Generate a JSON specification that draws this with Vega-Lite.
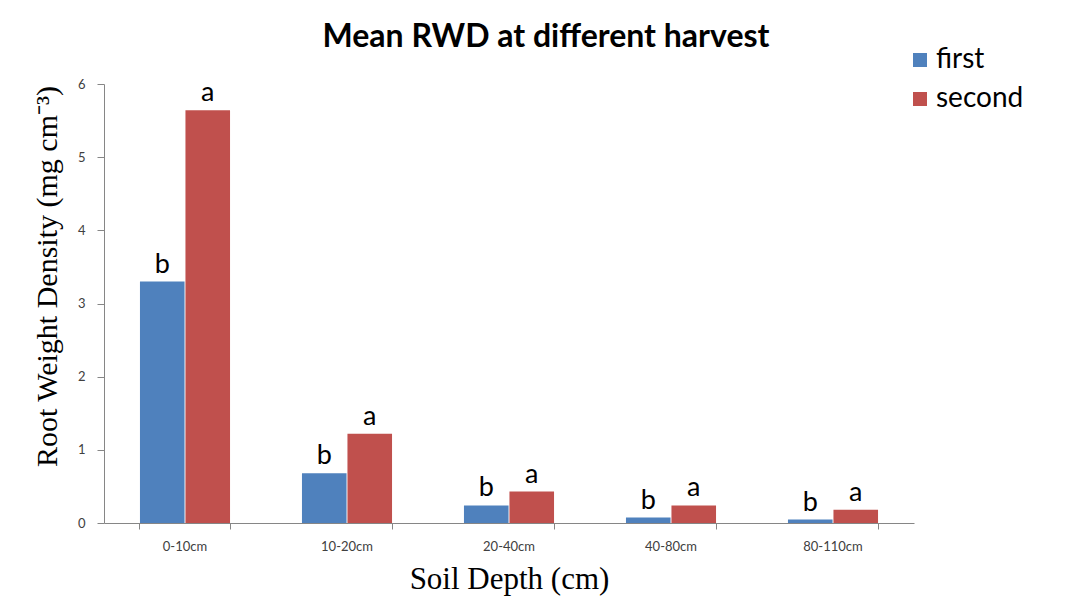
{
  "$schema": "https://vega.github.io/schema/vega-lite/v6.json",
  "width": 810,
  "height": 439,
  "autosize": {"type": "none"},
  "padding": {"left": 104, "top": 84, "right": 163, "bottom": 91},
  "background": "white",
  "title": {
    "text": "Mean RWD at different harvest",
    "font": "Lato",
    "fontSize": 32,
    "fontWeight": "bold",
    "color": "#000000",
    "anchor": "middle",
    "dx": 37,
    "dy": 33,
    "baseline": "alphabetic",
    "offset": 0
  },
  "data": {
    "values": [
      {"depth": "0-10cm", "harvest": "first", "value": 3.30, "letter": "b"},
      {"depth": "0-10cm", "harvest": "second", "value": 5.64, "letter": "a"},
      {"depth": "10-20cm", "harvest": "first", "value": 0.68, "letter": "b"},
      {"depth": "10-20cm", "harvest": "second", "value": 1.22, "letter": "a"},
      {"depth": "20-40cm", "harvest": "first", "value": 0.24, "letter": "b"},
      {"depth": "20-40cm", "harvest": "second", "value": 0.43, "letter": "a"},
      {"depth": "40-80cm", "harvest": "first", "value": 0.074, "letter": "b"},
      {"depth": "40-80cm", "harvest": "second", "value": 0.24, "letter": "a"},
      {"depth": "80-110cm", "harvest": "first", "value": 0.047, "letter": "b"},
      {"depth": "80-110cm", "harvest": "second", "value": 0.18, "letter": "a"}
    ]
  },
  "encoding": {
    "x": {
      "field": "depth",
      "type": "nominal",
      "sort": ["0-10cm", "10-20cm", "20-40cm", "40-80cm", "80-110cm"],
      "scale": {"paddingInner": 0.444, "paddingOuter": 0.222},
      "axis": {
        "title": "Soil Depth (cm)",
        "titleFont": "Liberation Serif",
        "titleFontSize": 31,
        "titleFontWeight": "normal",
        "titleColor": "#000000",
        "titleBaseline": "alphabetic",
        "titleY": 65,
        "labelAngle": 0,
        "labelFont": "Lato",
        "labelFontSize": 13,
        "labelColor": "#404040",
        "labelPadding": 11,
        "bandPosition": 1,
        "tickExtra": true,
        "tickSize": 6,
        "tickColor": "#868686",
        "domainColor": "#868686",
        "grid": false
      }
    },
    "xOffset": {
      "field": "harvest",
      "type": "nominal",
      "sort": ["first", "second"],
      "scale": {"paddingInner": 0.02, "paddingOuter": 0}
    }
  },
  "layer": [
    {
      "mark": {"type": "bar"},
      "encoding": {
        "y": {
          "field": "value",
          "type": "quantitative",
          "scale": {"domain": [0, 6], "nice": false},
          "axis": {
            "title": "Root Weight Density (mg cm⁻³)",
            "titleFont": "Liberation Serif",
            "titleFontSize": 30,
            "titleFontWeight": "normal",
            "titleColor": "#000000",
            "titleX": -42,
            "titleY": 192,
            "values": [0, 1, 2, 3, 4, 5, 6],
            "format": "d",
            "labelFont": "Lato",
            "labelFontSize": 13,
            "labelColor": "#404040",
            "labelPadding": 12,
            "tickSize": 7,
            "tickColor": "#868686",
            "domainColor": "#868686",
            "grid": false
          }
        },
        "color": {
          "field": "harvest",
          "type": "nominal",
          "sort": ["first", "second"],
          "scale": {"domain": ["first", "second"], "range": ["#4F81BD", "#C0504D"]},
          "legend": {
            "title": null,
            "orient": "none",
            "legendX": 802,
            "legendY": -38,
            "padding": 0,
            "symbolType": "square",
            "symbolSize": 196,
            "symbolStrokeWidth": 0,
            "labelFont": "Lato",
            "labelFontSize": 28,
            "labelColor": "#000000",
            "labelOffset": 2,
            "rowPadding": 11
          }
        }
      }
    },
    {
      "mark": {
        "type": "text",
        "dy": -9,
        "baseline": "alphabetic",
        "font": "Lato",
        "fontSize": 27,
        "color": "#000000"
      },
      "encoding": {
        "y": {"field": "value", "type": "quantitative"},
        "text": {"field": "letter"}
      }
    }
  ],
  "config": {"view": {"stroke": null}}
}
